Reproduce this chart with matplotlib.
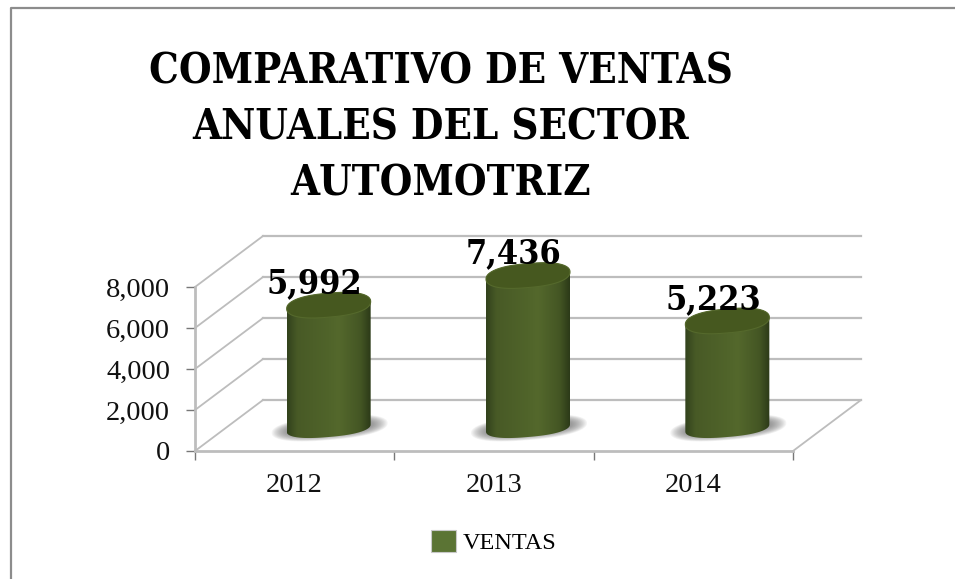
import numpy as np
import matplotlib
matplotlib.use('Agg')
import matplotlib.pyplot as plt
from matplotlib.patches import Patch, Polygon

# Data
years = ['2012', '2013', '2014']
ventas = [5992, 7436, 5223]
yticks = [0, 2000, 4000, 6000, 8000]
ytick_labels = ['0', '2,000', '4,000', '6,000', '8,000']
title_lines = ['COMPARATIVO DE VENTAS', 'ANUALES DEL SECTOR', 'AUTOMOTRIZ']
legend_name = 'VENTAS'

W, H = 955, 579
plt.rcParams['font.family'] = ['Liberation Serif', 'DejaVu Serif']

# condensed bold is closest to the heavy title face
bold_font = dict(family='DejaVu Serif', stretch='condensed', weight='bold')

fig = plt.figure(figsize=(W / 100, H / 100), dpi=100)

# frame of the chart, left and top edge only
fig.add_artist(plt.Line2D([11 / W, 11 / W, 1], [0, 1 - 8 / H, 1 - 8 / H], color='#8c8c8c', lw=1.6))

# front plane of the plot, in pixels: x 195-793, y 451-287
ax = fig.add_axes([195 / W, 1 - 451 / H, 598 / W, 164 / H])
ax.set_xlim(-0.5, 2.5)
ax.set_ylim(0, 8000)
ax.patch.set_alpha(0)

px_x = 3 / 598      # data units per pixel
px_y = 8000 / 164
depth_x = 68 * px_x
depth_y = 51 * px_y
grid_col = '#bdbdbd'

# walls and floor
for v in yticks:
    ax.plot([-0.5, -0.5 + depth_x], [v, v + depth_y], color=grid_col, lw=1.3, clip_on=False, zorder=1)
    ax.plot([-0.5 + depth_x, 2.5 + depth_x], [v + depth_y, v + depth_y], color=grid_col, lw=1.6, clip_on=False, zorder=1)
ax.plot([2.5, 2.5 + depth_x], [0, depth_y], color=grid_col, lw=1.3, clip_on=False, zorder=1)

for s in ['top', 'right']:
    ax.spines[s].set_visible(False)
for s in ['left', 'bottom']:
    ax.spines[s].set_color(grid_col)
    ax.spines[s].set_linewidth(2)
ax.set_yticks(yticks)
ax.set_yticklabels(ytick_labels, fontsize=20.5, color='#111111')
ax.set_xticks([-0.5, 0.5, 1.5, 2.5])
ax.set_xticklabels([])
ax.set_xticks([0, 1, 2], labels=years, minor=True)
ax.tick_params(axis='x', which='major', length=6.5, width=1, color='#777777')
ax.tick_params(axis='x', which='minor', length=0, pad=15.5, labelsize=20.5, labelcolor='#111111')
ax.tick_params(axis='y', length=6.5, width=1, color='#777777', pad=11.5)

# cylinder colours, dark at the edges
stops = np.array([0, 0.12, 0.5, 0.62, 0.88, 1])
cols = np.array([[50, 66, 28], [72, 90, 38], [80, 100, 42], [84, 104, 44], [68, 86, 36], [44, 58, 24]]) / 255
t = np.linspace(0, 1, 120)
grad = np.stack([np.interp(t, stops, cols[:, i]) for i in range(3)], axis=-1)[None, :, :]

base_x = depth_x / 2
base_y = 23 * px_y
tilt = 0.085  # the ellipses lean up to the right, px per px


def ellipse_pts(cx, cy, a_px, b_px, a0=0, a1=360, n=80):
    # slightly squared ellipse, sheared so it leans up to the right
    a = np.radians(np.linspace(a0, a1, n))
    x = a_px * np.sign(np.cos(a)) * np.abs(np.cos(a)) ** 0.8
    y = b_px * np.sign(np.sin(a)) * np.abs(np.sin(a)) ** 0.9 + tilt * x
    return cx + x * px_x, cy + y * px_y


for i, v in enumerate(ventas):
    cx = i + base_x
    top = v + base_y

    # soft shadow under the cylinder
    for k in range(14):
        f = 1 - k / 14
        sx, sy = ellipse_pts(cx + 1 * px_x, base_y, 42 + 16 * f, 6 + 6 * f)
        ax.add_patch(Polygon(np.column_stack([sx, sy]), closed=True, fc='#707070', ec='none', alpha=0.075,
                             zorder=2, clip_on=False))

    # body: lower half of base ellipse, then up and back over the top ellipse
    bx, by = ellipse_pts(cx, base_y, 42, 9, 180, 360)
    tx, ty = ellipse_pts(cx, top, 42, 12, 0, 180)
    body = Polygon(np.column_stack([np.r_[bx, tx], np.r_[by, ty]]), closed=True, transform=ax.transData,
                   fc='none', ec='none')
    ax.add_patch(body)
    im = ax.imshow(grad, extent=[cx - 42 * px_x, cx + 42 * px_x, 0, top + 24 * px_y], aspect='auto',
                   zorder=3, interpolation='bilinear')
    im.set_clip_box(fig.bbox)
    im.set_clip_path(body)

    # top face
    ex, ey = ellipse_pts(cx, top, 42, 12)
    ax.add_patch(Polygon(np.column_stack([ex, ey]), closed=True, fc='#46581f', ec='#55692c', lw=0.8,
                         zorder=4, clip_on=False))

    # value label
    ax.text(cx - 14 * px_x, top + 5 * px_y, f'{v:,}', ha='center', va='bottom', fontsize=24.5,
            color='black', zorder=5, clip_on=False, **bold_font)

ax.set_xlim(-0.5, 2.5)
ax.set_ylim(0, 8000)

# title, three centred lines
for line, y_px in zip(title_lines, [72, 127, 183]):
    fig.text(441 / W, 1 - y_px / H, line, ha='center', va='center', fontsize=30, color='black', **bold_font)

# legend
leg = fig.legend(handles=[Patch(fc='#5b7434', ec='#c8c8c8', lw=0.8, label=legend_name)], loc='center',
                 bbox_to_anchor=(494 / W, 1 - 542 / H), frameon=False, fontsize=17.5, handlelength=1,
                 handleheight=1, handletextpad=0.3)

# gradient over the legend key
fig.canvas.draw()
box = leg.get_patches()[0].get_window_extent().transformed(fig.transFigure.inverted())
kax = fig.add_axes([box.x0, box.y0, box.width, box.height])
xx, yy = np.meshgrid(np.linspace(-1, 1, 20), np.linspace(-1, 1, 20))
d = np.maximum(np.abs(xx), np.abs(yy))[..., None]
kax.imshow(np.array([118, 146, 78]) / 255 * (1 - d) + np.array([70, 90, 40]) / 255 * d, interpolation='bilinear')
kax.axis('off')

fig.savefig('out.png', dpi=100)
